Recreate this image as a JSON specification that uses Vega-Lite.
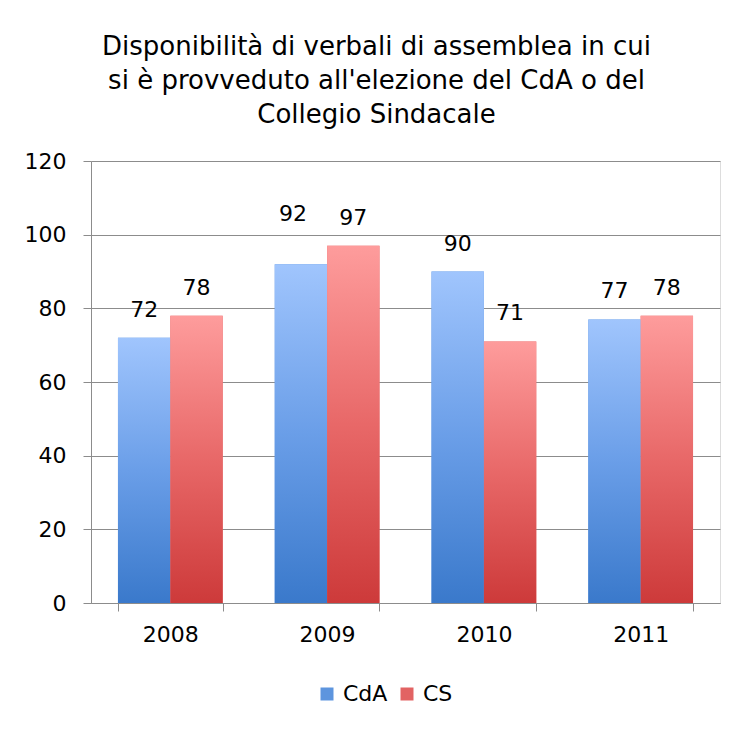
{
  "$schema": "https://vega.github.io/schema/vega-lite/v6.json",
  "width": 629,
  "height": 442,
  "autosize": "none",
  "padding": {"left": 91, "top": 161, "right": 19, "bottom": 126},
  "background": "white",
  "title": {
    "text": ["Disponibilità di verbali di assemblea in cui", "si è provveduto all'elezione del CdA o del", "Collegio Sindacale"],
    "font": "DejaVu Sans",
    "fontSize": 26,
    "fontWeight": "normal",
    "color": "#000000",
    "lineHeight": 34,
    "anchor": "middle",
    "dx": -29,
    "offset": 22
  },
  "data": {
    "values": [
      {"year": "2008", "series": "CdA", "value": 72},
      {"year": "2008", "series": "CS", "value": 78},
      {"year": "2009", "series": "CdA", "value": 92},
      {"year": "2009", "series": "CS", "value": 97},
      {"year": "2010", "series": "CdA", "value": 90},
      {"year": "2010", "series": "CS", "value": 71},
      {"year": "2011", "series": "CdA", "value": 77},
      {"year": "2011", "series": "CS", "value": 78}
    ]
  },
  "encoding": {
    "x": {
      "field": "year", "type": "nominal",
      "scale": {"paddingInner": 0.332, "paddingOuter": 0.172},
      "axis": {
        "title": null, "labelAngle": 0, "tickBand": "extent",
        "labelFont": "DejaVu Sans", "labelFontSize": 22, "labelColor": "#000000",
        "labelPadding": 13, "tickSize": 8, "tickColor": "#8c8c8c", "domainColor": "#8c8c8c",
        "grid": false
      }
    },
    "xOffset": {"field": "series", "type": "nominal", "sort": ["CdA", "CS"], "scale": {"domain": ["CdA", "CS"], "paddingInner": 0, "paddingOuter": 0}},
    "y": {
      "field": "value", "type": "quantitative",
      "scale": {"domain": [0, 120], "nice": false},
      "axis": {
        "title": null, "values": [0, 20, 40, 60, 80, 100, 120],
        "labelFont": "DejaVu Sans", "labelFontSize": 22, "labelColor": "#000000",
        "labelPadding": 17, "tickSize": 8, "tickColor": "#8c8c8c", "domainColor": "#8c8c8c",
        "grid": true, "gridColor": "#8c8c8c", "gridWidth": 1
      }
    }
  },
  "layer": [
    {
      "mark": {"type": "bar"},
      "encoding": {
        "color": {
          "field": "series", "type": "nominal",
          "scale": {"domain": ["CdA", "CS"], "range": ["#5d95de", "#e26363"]},
          "legend": {
            "title": null, "orient": "none", "direction": "horizontal",
            "legendX": 225, "legendY": 522, "padding": 0,
            "symbolType": "square", "symbolSize": 169, "symbolStrokeWidth": 0,
            "labelFont": "DejaVu Sans", "labelFontSize": 22, "labelColor": "#000000",
            "labelOffset": 5, "columnPadding": 8
          }
        }
      }
    },
    {
      "mark": {"type": "bar"},
      "encoding": {
        "color": {
          "condition": {
            "test": "datum.series === 'CdA'",
            "value": {"gradient": "linear", "x1": 0, "y1": 0, "x2": 0, "y2": 1,
              "stops": [{"offset": 0, "color": "#a0c5fd"}, {"offset": 0.5, "color": "#6a9ee8"}, {"offset": 1, "color": "#3a79cb"}]}
          },
          "value": {"gradient": "linear", "x1": 0, "y1": 0, "x2": 0, "y2": 1,
            "stops": [{"offset": 0, "color": "#fe9c9c"}, {"offset": 0.5, "color": "#e86868"}, {"offset": 1, "color": "#cd3a3a"}]}
        }
      }
    },
    {
      "transform": [{"filter": "!(datum.year === '2009' && datum.series === 'CdA')"}],
      "mark": {"type": "text", "font": "DejaVu Sans", "fontSize": 22, "color": "#000000", "baseline": "middle", "dy": -28},
      "encoding": {"text": {"field": "value", "type": "quantitative"}}
    },
    {
      "transform": [{"filter": "datum.year === '2009' && datum.series === 'CdA'"}],
      "mark": {"type": "text", "font": "DejaVu Sans", "fontSize": 22, "color": "#000000", "baseline": "middle", "dy": -50, "dx": -8},
      "encoding": {"text": {"field": "value", "type": "quantitative"}}
    }
  ]
}
